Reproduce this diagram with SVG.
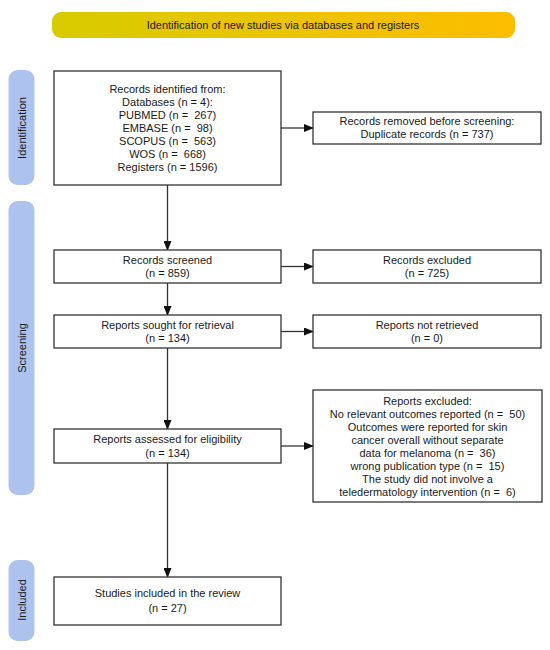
<svg xmlns="http://www.w3.org/2000/svg" width="550" height="650" viewBox="0 0 550 650">
<style>
.box{fill:#fff;stroke:#333;stroke-width:1.3}
.t{font-family:"Liberation Sans",Arial,sans-serif;font-size:11px;fill:#1a1a1a;text-anchor:middle;white-space:pre}
.side{fill:#aec2ee}
.c{stroke:#333;stroke-width:1.3;fill:none;marker-end:url(#ah)}
</style>
<defs>
<linearGradient id="gold" x1="0" y1="0" x2="1" y2="0">
<stop offset="0" stop-color="#d8cb00"/>
<stop offset="1" stop-color="#fdbd00"/>
</linearGradient>
<marker id="ah" markerWidth="10" markerHeight="8" refX="9" refY="4" orient="auto" markerUnits="userSpaceOnUse">
<path d="M0,0 L10,4 L0,8 Z" fill="#111"/>
</marker>
</defs>
<rect width="550" height="650" fill="#fff"/>

<g id="banner">
<rect x="52" y="12" width="463" height="26" rx="9" fill="url(#gold)"/>
<text class="t" x="283" y="29">Identification of new studies via databases and registers</text>
</g>

<g id="phase-identification">
<rect class="side" x="8.5" y="70" width="26" height="115" rx="9"/>
<text class="t" transform="translate(25.5,128) rotate(-90)">Identification</text>
</g>
<g id="phase-screening">
<rect class="side" x="8.5" y="201" width="26" height="294" rx="9"/>
<text class="t" transform="translate(25.5,348) rotate(-90)">Screening</text>
</g>
<g id="phase-included">
<rect class="side" x="8.5" y="560" width="26" height="81" rx="9"/>
<text class="t" transform="translate(25.5,600) rotate(-90)">Included</text>
</g>

<g id="connectors">
<line class="c" x1="167.5" y1="185" x2="167.5" y2="250"/>
<line class="c" x1="167.5" y1="283" x2="167.5" y2="315"/>
<line class="c" x1="167.5" y1="348" x2="167.5" y2="429"/>
<line class="c" x1="167.5" y1="463" x2="167.5" y2="577"/>
<line class="c" x1="281" y1="128" x2="313" y2="128"/>
<line class="c" x1="281" y1="266.5" x2="313" y2="266.5"/>
<line class="c" x1="281" y1="331.5" x2="313" y2="331.5"/>
<line class="c" x1="281" y1="446" x2="313" y2="446"/>
</g>

<g id="records-identified">
<rect class="box" x="54" y="71" width="227" height="114"/>
<text class="t" x="167.5" y="93">Records identified from:</text>
<text class="t" x="167.5" y="106">Databases (n = 4):</text>
<text class="t" x="167.5" y="119">PUBMED (n =  267)</text>
<text class="t" x="167.5" y="132">EMBASE (n =  98)</text>
<text class="t" x="167.5" y="145">SCOPUS (n =  563)</text>
<text class="t" x="167.5" y="158">WOS (n =  668)</text>
<text class="t" x="167.5" y="171">Registers (n = 1596)</text>
</g>

<g id="records-removed">
<rect class="box" x="313" y="112" width="228" height="32"/>
<text class="t" x="427" y="125">Records removed before screening:</text>
<text class="t" x="427" y="138">Duplicate records (n = 737)</text>
</g>

<g id="records-screened">
<rect class="box" x="54" y="250" width="227" height="33"/>
<text class="t" x="167.5" y="263.5">Records screened</text>
<text class="t" x="167.5" y="277">(n = 859)</text>
</g>

<g id="records-excluded">
<rect class="box" x="313" y="250" width="228" height="33"/>
<text class="t" x="427" y="263.5">Records excluded</text>
<text class="t" x="427" y="277">(n = 725)</text>
</g>

<g id="reports-sought">
<rect class="box" x="54" y="315" width="227" height="33"/>
<text class="t" x="167.5" y="328.5">Reports sought for retrieval</text>
<text class="t" x="167.5" y="342">(n = 134)</text>
</g>

<g id="reports-not-retrieved">
<rect class="box" x="313" y="315" width="228" height="33"/>
<text class="t" x="427" y="328.5">Reports not retrieved</text>
<text class="t" x="427" y="342">(n = 0)</text>
</g>

<g id="reports-assessed">
<rect class="box" x="54" y="429" width="227" height="34"/>
<text class="t" x="167.5" y="443">Reports assessed for eligibility</text>
<text class="t" x="167.5" y="456.5">(n = 134)</text>
</g>

<g id="reports-excluded">
<rect class="box" x="313" y="390" width="229" height="112"/>
<text class="t" x="427.5" y="405">Reports excluded:</text>
<text class="t" x="427.5" y="418">No relevant outcomes reported (n =  50)</text>
<text class="t" x="427.5" y="431">Outcomes were reported for skin</text>
<text class="t" x="427.5" y="444">cancer overall without separate</text>
<text class="t" x="427.5" y="457">data for melanoma (n =  36)</text>
<text class="t" x="427.5" y="470">wrong publication type (n =  15)</text>
<text class="t" x="427.5" y="483">The study did not involve a</text>
<text class="t" x="427.5" y="496">teledermatology intervention (n =  6)</text>
</g>

<g id="studies-included">
<rect class="box" x="54" y="577" width="227" height="48"/>
<text class="t" x="167.5" y="597">Studies included in the review</text>
<text class="t" x="167.5" y="611.5">(n = 27)</text>
</g>
</svg>
